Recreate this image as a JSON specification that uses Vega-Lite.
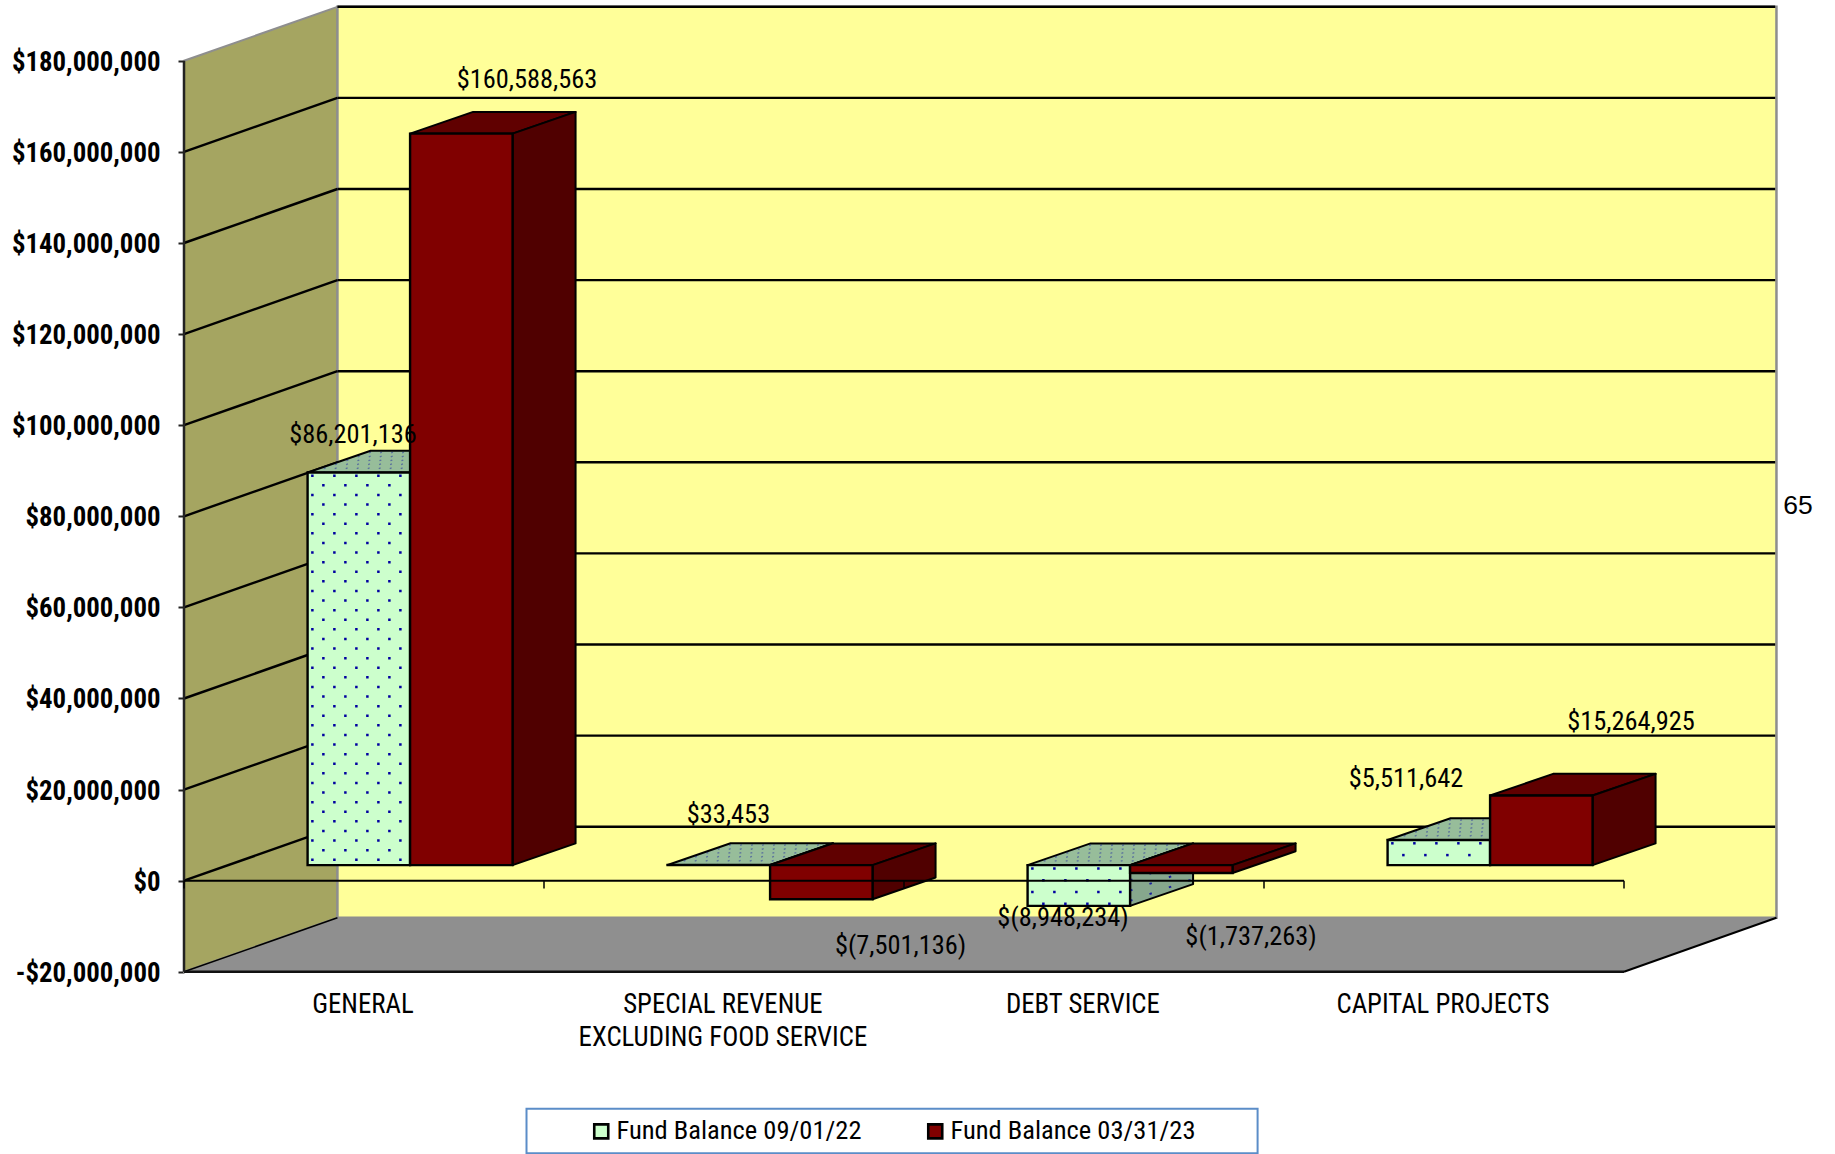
{
"$schema":"https://vega.github.io/schema/vega-lite/v6.json",
"width":1651,"height":1154,
"autosize":{"type":"none"},
"padding":{"left":184,"top":0,"right":0,"bottom":0},
"background":"white",
"config":{"view":{"stroke":null},"axisX":{"disable":true}},
"datasets":{
"bars":[
{"category":"GENERAL","series":"Fund Balance 09/01/22","value":86201136},
{"category":"GENERAL","series":"Fund Balance 03/31/23","value":160588563},
{"category":"SPECIAL REVENUE\nEXCLUDING FOOD SERVICE","series":"Fund Balance 09/01/22","value":33453},
{"category":"SPECIAL REVENUE\nEXCLUDING FOOD SERVICE","series":"Fund Balance 03/31/23","value":-7501136},
{"category":"DEBT SERVICE","series":"Fund Balance 09/01/22","value":-8948234},
{"category":"DEBT SERVICE","series":"Fund Balance 03/31/23","value":-1737263},
{"category":"CAPITAL PROJECTS","series":"Fund Balance 09/01/22","value":5511642},
{"category":"CAPITAL PROJECTS","series":"Fund Balance 03/31/23","value":15264925}
],
"ticks":[{"value":-20000000},{"value":0},{"value":20000000},{"value":40000000},{"value":60000000},{"value":80000000},{"value":100000000},{"value":120000000},{"value":140000000},{"value":160000000},{"value":180000000}],
"depths":[{"depth":0},{"depth":1}],
"cats":[{"pos":0},{"pos":1},{"pos":2},{"pos":3},{"pos":4}]
},
"data":{"name":"bars"},
"transform":[
{"calculate":"indexof('GSDC',datum.category[0])","as":"c"},
{"calculate":"datum.series=='Fund Balance 09/01/22'?0:1","as":"s"},
{"calculate":"datum.c+0.628+(datum.s-1)*0.2847","as":"xL"},
{"calculate":"datum.xL+0.2847","as":"xR"},
{"calculate":"max(datum.value,0)+3425000","as":"top"},
{"calculate":"min(datum.value,0)+3425000","as":"bot"},
{"calculate":"[0,1]","as":"depth"},
{"flatten":["depth"]},
{"calculate":"datum.xL+datum.depth*0.175","as":"fx"},
{"calculate":"datum.xR+datum.depth*0.175","as":"fx2"},
{"calculate":"datum.top+datum.depth*4764000","as":"fy"},
{"calculate":"datum.bot+datum.depth*4764000","as":"fy2"},
{"calculate":"datum.value<0?'$('+format(-datum.value,',.0f')+')':'$'+format(datum.value,',.0f')","as":"label"},
{"calculate":"[0.4694,0.9528,1.5125,1.9906,2.4417,2.9639,3.3944,4.0194][datum.c*2+datum.s]","as":"lx"},
{"calculate":"[97850000,175780000,14420000,-14340000,-8190000,-12360000,22330000,34910000][datum.c*2+datum.s]","as":"ly"}
],
"layer":[
{"data":{"name":"depths"},
 "transform":[{"calculate":"datum.depth*0.4262","as":"xx"},{"calculate":"180000000+datum.depth*11855000","as":"yy"},{"calculate":"-20000000+datum.depth*11855000","as":"yy2"}],
 "mark":{"type":"area","orient":"vertical","fill":"#A5A561","stroke":"#8E8E8E","strokeWidth":2},
 "encoding":{
  "x":{"field":"xx","type":"quantitative","scale":{"domain":[0,4.58611],"nice":false,"zero":false}},
  "y":{"field":"yy","type":"quantitative","stack":null,"scale":{"domain":[-60000000,193347000],"nice":false,"zero":false},
   "axis":{"title":null,"values":[-20000000,0,20000000,40000000,60000000,80000000,100000000,120000000,140000000,160000000,180000000],"labelExpr":"(datum.value<0?'-':'')+format(abs(datum.value),'$,.0f')","domain":false,"grid":false,"tickSize":6,"tickWidth":2,"tickColor":"#222222","labelPadding":18,"labelOffset":1.5,"labelFont":"Roboto Condensed, Roboto","labelFontWeight":"bold","labelFontSize":26.8,"labelColor":"#000000","labelOverlap":false,"labelBound":false,"labelFlush":false}},
  "y2":{"field":"yy2"}}},
{"mark":{"type":"rect","fill":"#FFFF99","stroke":"#8E8E8E","strokeWidth":2.5},
 "data":{"values":[{"a":1}]},
 "encoding":{"x":{"datum":0.4262,"type":"quantitative"},"x2":{"datum":4.4235},"y":{"datum":191855000,"type":"quantitative"},"y2":{"datum":-8145000}}},
{"data":{"name":"depths"},
 "transform":[{"calculate":"datum.depth*0.4262","as":"xx"},{"calculate":"4+datum.depth*0.4235","as":"xx2"},{"calculate":"-20000000+datum.depth*11855000","as":"yy"}],
 "mark":{"type":"area","orient":"horizontal","fill":"#8F8F8F"},
 "encoding":{"y":{"field":"yy","type":"quantitative"},"x":{"field":"xx","type":"quantitative","stack":null},"x2":{"field":"xx2"}}},
{"data":{"name":"ticks"},
 "transform":[{"filter":"datum.value>=0"},{"calculate":"datum.value+11855000","as":"yb"}],
 "mark":{"type":"rule","color":"#000000","strokeWidth":2.4},
 "encoding":{"x":{"datum":0.4262,"type":"quantitative"},"x2":{"datum":4.42},"y":{"field":"yb","type":"quantitative"}}},
{"data":{"name":"ticks"},
 "transform":[{"filter":"datum.value>=0&&datum.value<180000000"},{"calculate":"datum.value+11855000","as":"yb"}],
 "mark":{"type":"rule","color":"#000000","strokeWidth":2.4},
 "encoding":{"x":{"datum":0,"type":"quantitative"},"x2":{"datum":0.4262},"y":{"field":"value","type":"quantitative"},"y2":{"field":"yb"}}},
{"data":{"name":"ticks"},
 "transform":[{"filter":"datum.value==-20000000"},{"calculate":"datum.value+11855000","as":"yb"}],
 "mark":{"type":"rule","color":"#000000","strokeWidth":1.5},
 "encoding":{"x":{"datum":0,"type":"quantitative"},"x2":{"datum":0.4262},"y":{"field":"value","type":"quantitative"},"y2":{"field":"yb"}}},
{"data":{"name":"ticks"},
 "transform":[{"filter":"datum.value==-20000000"},{"calculate":"datum.value+11855000","as":"yb"}],
 "mark":{"type":"rule","color":"#000000","strokeWidth":2},
 "encoding":{"x":{"datum":4,"type":"quantitative"},"x2":{"datum":4.4235},"y":{"field":"value","type":"quantitative"},"y2":{"field":"yb"}}},
{"data":{"name":"ticks"},
 "transform":[{"filter":"datum.value==-20000000"}],
 "mark":{"type":"rule","color":"#111111","strokeWidth":2.5},
 "encoding":{"x":{"datum":0,"type":"quantitative"},"x2":{"datum":4},"y":{"field":"value","type":"quantitative"}}},
{"mark":{"type":"rule","color":"#222222","strokeWidth":2.5},
 "data":{"values":[{"a":1}]},
 "encoding":{"x":{"datum":0,"type":"quantitative"},"y":{"datum":180000000,"type":"quantitative"},"y2":{"datum":-20000000}}},

{"transform":[{"filter":"datum.s==0"}],
 "mark":{"type":"area","orient":"horizontal","fill":"#97BD9A","stroke":"#000000","strokeWidth":2,"strokeJoin":"round"},
 "encoding":{"detail":{"field":"category"},"y":{"field":"fy","type":"quantitative"},"x":{"field":"fx","type":"quantitative","stack":null},"x2":{"field":"fx2"}}},
{"transform":[{"filter":"datum.s==0&&datum.depth==0"},{"calculate":"[0,1,2,3,4,5,6,7,8]","as":"col"},{"flatten":["col"]},{"calculate":"datum.xL+0.0133+datum.col*0.03056","as":"dx1"},{"calculate":"datum.dx1+0.175","as":"dx2"},{"calculate":"datum.top+4764000","as":"dy2"}],
 "mark":{"type":"rule","color":"#0000A0","strokeWidth":1.3,"strokeDash":[2,10],"opacity":0.4},
 "encoding":{"x":{"field":"dx1","type":"quantitative"},"x2":{"field":"dx2"},"y":{"field":"top","type":"quantitative"},"y2":{"field":"dy2"}}},
{"transform":[{"filter":"datum.s==0"}],
 "mark":{"type":"area","orient":"vertical","fill":"#86A78D","stroke":"#000000","strokeWidth":2,"strokeJoin":"round"},
 "encoding":{"detail":{"field":"category"},"x":{"field":"fx2","type":"quantitative"},"y":{"field":"fy","type":"quantitative","stack":null},"y2":{"field":"fy2"}}},
{"transform":[{"filter":"datum.s==0&&datum.depth==0&&datum.value<0"},{"calculate":"[0,1,2,3]","as":"row"},{"flatten":["row"]},{"calculate":"datum.xR+0.175","as":"sx2"},{"calculate":"datum.value*(datum.row+0.5)/4+3425000","as":"sy1"},{"calculate":"datum.sy1+4764000","as":"sy2"}],
 "mark":{"type":"rule","color":"#0000A0","strokeWidth":2,"strokeDash":[2.5,18],"opacity":0.8},
 "encoding":{"x":{"field":"xR","type":"quantitative"},"x2":{"field":"sx2"},"y":{"field":"sy1","type":"quantitative"},"y2":{"field":"sy2"}}},
{"transform":[{"filter":"datum.s==0&&datum.depth==0"}],
 "mark":{"type":"rect","stroke":"#000000","strokeWidth":2.4},
 "encoding":{"x":{"field":"xL","type":"quantitative"},"x2":{"field":"xR"},"y":{"field":"top","type":"quantitative"},"y2":{"field":"bot"},
  "fill":{"field":"series","type":"nominal","scale":{"domain":["Fund Balance 09/01/22","Fund Balance 03/31/23"],"range":["#CCFFCC","#800000"]},
   "legend":{"title":null,"orient":"none","legendX":404,"legendY":1118,"direction":"horizontal","padding":0,"columnPadding":60,"symbolType":"square","symbolSize":196,"symbolStrokeColor":"#111111","symbolStrokeWidth":2.6,"labelOffset":2,"labelFont":"Roboto Condensed, Roboto","labelFontSize":26.5,"labelColor":"#000000","labelLimit":400}}}},
{"transform":[{"filter":"datum.s==0&&datum.depth==0&&abs(datum.value)>1000000"},{"calculate":"[0,1,2,3,4,5,6,7,8]","as":"col"},{"flatten":["col"]},{"calculate":"datum.c==0?2108000:2590000","as":"sp"},{"calculate":"datum.xL+0.0133+datum.col*0.03056","as":"dx"},{"calculate":"datum.top-450000-(datum.col%2)*datum.sp","as":"dy"}],
 "mark":{"type":"rule","color":"#0000A0","strokeWidth":2.5},
 "encoding":{"x":{"field":"dx","type":"quantitative"},"y":{"field":"dy","type":"quantitative"},"y2":{"field":"bot"},
  "strokeDash":{"condition":{"test":"datum.c==0","value":[2.5,16.7]},"value":[2.5,21.1]}}},

{"transform":[{"filter":"datum.s==1"}],
 "mark":{"type":"area","orient":"horizontal","fill":"#600000","stroke":"#000000","strokeWidth":2,"strokeJoin":"round"},
 "encoding":{"detail":{"field":"category"},"y":{"field":"fy","type":"quantitative"},"x":{"field":"fx","type":"quantitative","stack":null},"x2":{"field":"fx2"}}},
{"transform":[{"filter":"datum.s==1"}],
 "mark":{"type":"area","orient":"vertical","fill":"#500000","stroke":"#000000","strokeWidth":2,"strokeJoin":"round"},
 "encoding":{"detail":{"field":"category"},"x":{"field":"fx2","type":"quantitative"},"y":{"field":"fy","type":"quantitative","stack":null},"y2":{"field":"fy2"}}},
{"transform":[{"filter":"datum.s==1&&datum.depth==0"}],
 "mark":{"type":"rect","stroke":"#000000","strokeWidth":2.4},
 "encoding":{"x":{"field":"xL","type":"quantitative"},"x2":{"field":"xR"},"y":{"field":"top","type":"quantitative"},"y2":{"field":"bot"},
  "fill":{"field":"series","type":"nominal"}}},

{"data":{"name":"ticks"},
 "transform":[{"filter":"datum.value==0"}],
 "mark":{"type":"rule","color":"#000000","strokeWidth":2},
 "encoding":{"x":{"datum":0,"type":"quantitative"},"x2":{"datum":4},"y":{"field":"value","type":"quantitative"}}},
{"data":{"name":"cats"},
 "mark":{"type":"rule","color":"#000000","strokeWidth":1.5},
 "encoding":{"x":{"field":"pos","type":"quantitative"},"y":{"datum":0,"type":"quantitative"},"y2":{"datum":-1700000}}},

{"transform":[{"filter":"datum.depth==0&&datum.s==0"},{"calculate":"datum.c+0.497","as":"cx"}],
 "mark":{"type":"text","font":"Roboto Condensed, Roboto","fontSize":26.8,"color":"#000000","align":"center","baseline":"top","lineBreak":"\n","lineHeight":33},
 "encoding":{"x":{"field":"cx","type":"quantitative"},"y":{"datum":-24440000,"type":"quantitative"},"text":{"field":"category"}}},
{"transform":[{"filter":"datum.depth==0"}],
 "mark":{"type":"text","font":"Roboto Condensed, Roboto","fontSize":26.4,"color":"#000000","align":"center","baseline":"middle"},
 "encoding":{"x":{"field":"lx","type":"quantitative"},"y":{"field":"ly","type":"quantitative"},"text":{"field":"label"}}},
{"mark":{"type":"text","font":"Liberation Sans","fontSize":26.5,"color":"#000000","align":"center","baseline":"middle"},
 "data":{"values":[{"a":1}]},
 "encoding":{"x":{"datum":4.483,"type":"quantitative"},"y":{"datum":82300000,"type":"quantitative"},"text":{"value":"65"}}},
{"mark":{"type":"rect","fill":"none","stroke":"#5B8DC8","strokeWidth":2},
 "data":{"values":[{"a":1}]},
 "encoding":{"x":{"datum":0.9514,"type":"quantitative"},"x2":{"datum":2.9822},"y":{"datum":-50050000,"type":"quantitative"},"y2":{"datum":-59850000}}}
]
}
